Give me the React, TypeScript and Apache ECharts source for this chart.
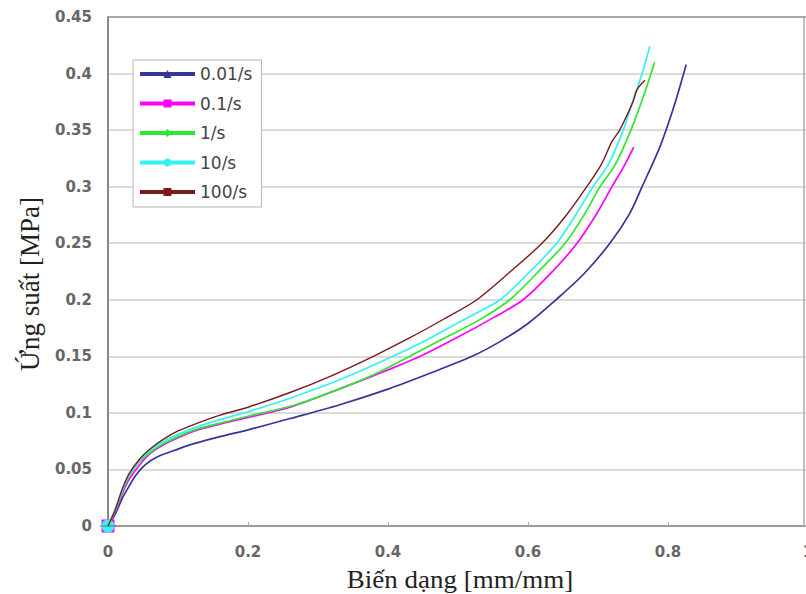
import React, { useEffect, useRef } from "react";
import * as echarts from "echarts";

const seriesNames = ["0.01/s", "0.1/s", "1/s", "10/s", "100/s"];

const s001: number[][] = [
  [0, 0], [0.01, 0.01], [0.02, 0.024], [0.03, 0.035], [0.04, 0.045], [0.053, 0.054],
  [0.07, 0.061], [0.1, 0.068], [0.124, 0.073], [0.16, 0.079], [0.2, 0.085], [0.26, 0.095],
  [0.33, 0.107], [0.4, 0.121], [0.46, 0.135], [0.52, 0.15], [0.56, 0.163], [0.6, 0.179],
  [0.64, 0.2], [0.68, 0.223], [0.717, 0.25], [0.745, 0.276], [0.763, 0.3], [0.787, 0.333],
  [0.8, 0.355], [0.813, 0.38], [0.826, 0.408],
];
const s01: number[][] = [
  [0, 0], [0.01, 0.012], [0.02, 0.028], [0.03, 0.041], [0.045, 0.054], [0.06, 0.064],
  [0.08, 0.072], [0.1, 0.078], [0.124, 0.084], [0.16, 0.09], [0.2, 0.096], [0.26, 0.105],
  [0.33, 0.121], [0.4, 0.138], [0.446, 0.15], [0.5, 0.167], [0.55, 0.184], [0.593, 0.2],
  [0.635, 0.225], [0.67, 0.25], [0.697, 0.275], [0.72, 0.3], [0.737, 0.318], [0.751, 0.335],
];
const s1: number[][] = [
  [0, 0], [0.01, 0.013], [0.02, 0.03], [0.03, 0.044], [0.045, 0.057], [0.06, 0.065],
  [0.077, 0.072], [0.1, 0.079], [0.124, 0.085], [0.16, 0.091], [0.2, 0.097], [0.267, 0.107],
  [0.33, 0.121], [0.38, 0.134], [0.431, 0.15], [0.48, 0.166], [0.53, 0.182], [0.574, 0.2],
  [0.615, 0.225], [0.653, 0.25], [0.68, 0.275], [0.703, 0.3], [0.725, 0.32], [0.747, 0.35],
  [0.765, 0.38], [0.781, 0.41],
];
const s10: number[][] = [
  [0, 0], [0.01, 0.014], [0.02, 0.031], [0.03, 0.045], [0.045, 0.058], [0.06, 0.067],
  [0.08, 0.075], [0.1, 0.081], [0.124, 0.087], [0.16, 0.094], [0.2, 0.101], [0.26, 0.113],
  [0.33, 0.129], [0.407, 0.15], [0.46, 0.166], [0.51, 0.183], [0.56, 0.2], [0.603, 0.225],
  [0.641, 0.25], [0.668, 0.275], [0.693, 0.3], [0.715, 0.32], [0.736, 0.35], [0.752, 0.38],
  [0.763, 0.4], [0.774, 0.424],
];
const s100: number[][] = [
  [0, 0], [0.01, 0.014], [0.02, 0.032], [0.03, 0.046], [0.045, 0.059], [0.06, 0.068],
  [0.08, 0.077], [0.1, 0.084], [0.124, 0.09], [0.16, 0.098], [0.2, 0.105], [0.26, 0.118],
  [0.32, 0.133], [0.379, 0.15], [0.43, 0.166], [0.48, 0.183], [0.527, 0.2], [0.575, 0.225],
  [0.62, 0.25], [0.655, 0.275], [0.684, 0.3], [0.705, 0.32], [0.72, 0.34], [0.731, 0.35],
  [0.75, 0.375], [0.756, 0.386], [0.767, 0.394],
];

const seriesData = [s001, s01, s1, s10, s100];
const colors = ["#35359a", "#ff00ff", "#2de82d", "#33f2f2", "#7b1a1a"];
const symbols = ["triangle", "rect", "diamond", "circle", "path://M0,0H16V3H0Z"];
const originSizes: (number | number[])[] = [12, 13, 12, 13, [17, 3]];

const xTitle = "Biến dạng [mm/mm]";
const yTitle = "Ứng suất [MPa]";

export default function App() {
  const ref = useRef<HTMLDivElement>(null);
  useEffect(() => {
    if (!ref.current) return;
    const chart = echarts.init(ref.current, undefined, { renderer: "svg" });
    const tickFont = { fontFamily: "DejaVu Sans", fontWeight: "bold" as const, fontSize: 15, color: "#666" };
    chart.setOption({
      animation: false,
      backgroundColor: "#fff",
      grid: { left: 108, top: 17, width: 700, bottom: 68, outerBoundsMode: "none", containLabel: false },
      xAxis: {
        type: "value",
        min: 0,
        max: 1,
        interval: 0.2,
        axisLine: { show: true, lineStyle: { color: "#888", width: 1.5 } },
        axisTick: { show: true, inside: true, length: 4, lineStyle: { color: "#aaa" } },
        splitLine: { show: false },
        axisLabel: { ...tickFont, margin: 18 },
      },
      yAxis: {
        type: "value",
        min: 0,
        max: 0.45,
        interval: 0.05,
        axisLine: { show: true, lineStyle: { color: "#888", width: 2 } },
        axisTick: { show: false },
        splitLine: { show: true, lineStyle: { color: "#cfcfcf", width: 1.5 } },
        axisLabel: { ...tickFont, margin: 16 },
      },
      legend: {
        orient: "vertical",
        left: 133,
        top: 60,
        padding: [5.5, 9, 6.5, 5],
        itemWidth: 55,
        itemHeight: 10,
        itemGap: 12.5,
        backgroundColor: "#fff",
        borderColor: "#b5b5b5",
        borderWidth: 1,
        lineStyle: { width: 4 },
        textStyle: { fontFamily: "DejaVu Sans", fontSize: 17, color: "#444", lineHeight: 17 },
        data: seriesNames,
      },
      series: seriesNames.map((name, i) => ({
        name,
        type: "line",
        data: seriesData[i],
        smooth: 0.3,
        symbol: symbols[i],
        symbolKeepAspect: true,
        symbolSize: (_v: any, p: any) => (p.dataIndex === 0 ? originSizes[i] : 0),
        showSymbol: true,
        lineStyle: { color: colors[i], width: i === 4 ? 1.4 : 1.7 },
        itemStyle: { color: colors[i] },
        z: 2 + i,
      })),
      graphic: [
        {
          type: "line",
          shape: { x1: 108, y1: 17, x2: 806, y2: 17 },
          style: { stroke: "#999", lineWidth: 1.5 },
          z: 1,
        },
        {
          type: "line",
          shape: { x1: 804, y1: 17, x2: 804, y2: 526 },
          style: { stroke: "#aaa", lineWidth: 1.5 },
          z: 1,
        },
        {
          type: "text",
          x: 460,
          y: 580,
          scaleX: 1.08,
          style: {
            text: xTitle,
            fontFamily: "Liberation Serif",
            fontSize: 25,
            fill: "#222",
            align: "center",
            verticalAlign: "middle",
          },
        },
        {
          type: "text",
          x: 30,
          y: 284,
          rotation: Math.PI / 2,
          style: {
            text: yTitle,
            fontFamily: "Liberation Serif",
            fontSize: 27,
            fill: "#222",
            align: "center",
            verticalAlign: "middle",
          },
        },
      ],
    });
    return () => chart.dispose();
  }, []);
  return (
    <div
      ref={ref}
      style={{ position: "fixed", left: 0, top: 0, width: 806, height: 594, overflow: "hidden" }}
    />
  );
}
